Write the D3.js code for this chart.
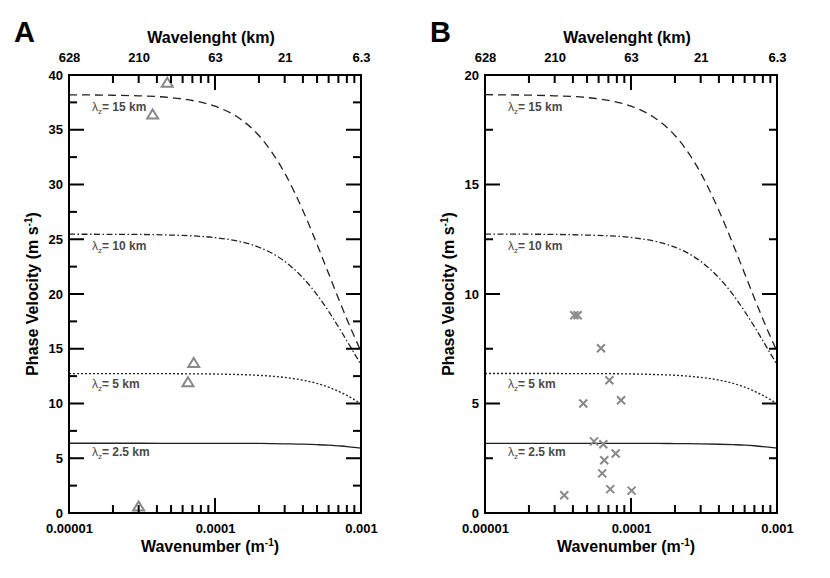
<!DOCTYPE html>
<html>
<head>
<meta charset="utf-8">
<script src="https://cdn.jsdelivr.net/npm/d3@7/dist/d3.min.js"></script>
<style>
body { margin: 0; background: #fff; }
svg text { font-family: "Liberation Sans", Arial, sans-serif; font-weight: bold; fill: #000; }
.tick text { font-size: 13px; }
.curve-label { font-size: 12px; fill: #4a4a4a; }
</style>
</head>
<body>
<svg id="chart" width="830" height="578"></svg>
<script>
var wavenumbers = [1e-5, 2e-5, 3e-5, 5e-5, 7e-5, 1e-4, 1.5e-4, 2e-4, 3e-4, 4e-4, 5e-4, 6e-4, 7e-4, 8e-4, 9e-4, 1e-3];
var curveNames = ["15", "10", "5", "2.5"];
var curveDashes = ["8,5", "6,2.5,1.5,2.5", "2,2", null];
var labelOffsets = [16, 16, 14.5, 12.5];

// panel A phase velocities (m/s)
var velocityA15 = [38.19, 38.15, 38.10, 37.93, 37.67, 37.15, 35.96, 34.47, 31.05, 27.62, 24.53, 21.87, 19.61, 17.72, 16.12, 14.76];
var velocityA10 = [25.46, 25.45, 25.44, 25.38, 25.31, 25.15, 24.77, 24.27, 22.98, 21.48, 19.93, 18.42, 17.01, 15.73, 14.58, 13.55];
var velocityA5 = [12.73, 12.73, 12.73, 12.72, 12.71, 12.69, 12.64, 12.57, 12.38, 12.13, 11.83, 11.49, 11.12, 10.74, 10.35, 9.96];
var velocityA25 = [6.37, 6.37, 6.37, 6.36, 6.36, 6.36, 6.36, 6.35, 6.32, 6.29, 6.24, 6.19, 6.13, 6.07, 5.99, 5.92];

// panel B phase velocities (m/s)
var velocityB15 = [19.10, 19.08, 19.05, 18.97, 18.84, 18.58, 17.98, 17.24, 15.53, 13.81, 12.27, 10.94, 9.81, 8.86, 8.06, 7.38];
var velocityB10 = [12.73, 12.73, 12.72, 12.69, 12.66, 12.58, 12.39, 12.14, 11.49, 10.74, 9.97, 9.21, 8.51, 7.87, 7.29, 6.78];
var velocityB5 = [6.37, 6.37, 6.37, 6.36, 6.36, 6.35, 6.32, 6.29, 6.19, 6.07, 5.92, 5.75, 5.56, 5.37, 5.18, 4.98];
var velocityB25 = [3.18, 3.18, 3.18, 3.18, 3.18, 3.18, 3.18, 3.17, 3.16, 3.14, 3.12, 3.10, 3.07, 3.03, 3.00, 2.96];

// observations
var triangleK = [4.71e-5, 3.74e-5, 7.15e-5, 6.53e-5, 3.0e-5];
var triangleV = [39.3, 36.4, 13.7, 11.95, 0.6];
var crossK = [4.09e-5, 4.31e-5, 6.23e-5, 7.11e-5, 4.71e-5, 8.55e-5, 5.58e-5, 6.46e-5, 7.85e-5, 6.56e-5, 6.35e-5, 7.21e-5, 1.01e-4, 3.49e-5];
var crossV = [9.03, 9.03, 7.52, 6.06, 5.0, 5.15, 3.27, 3.14, 2.72, 2.41, 1.81, 1.09, 1.02, 0.81];

// axes
var bottomTicks = [1e-5, 1e-4, 1e-3];
var bottomLabels = ["0.00001", "0.0001", "0.001"];
var topTicks = [1e-5, 3e-5, 1e-4, 3e-4, 1e-3];
var topLabels = ["628", "210", "63", "21", "6.3"];
var majorK = [1e-4];
var minorK = [2e-5, 3e-5, 4e-5, 5e-5, 6e-5, 7e-5, 8e-5, 9e-5, 2e-4, 3e-4, 4e-4, 5e-4, 6e-4, 7e-4, 8e-4, 9e-4];
var yMaxA = 40, yMaxB = 20;

function PhaseVelocityPanel(svg, left, letter, yMax, curves, points, marker) {
	var self = this;
	self.svg = svg;
	self.left = left;
	self.top = 75;
	self.g = svg.append("g").attr("transform", "translate(" + left + ",75)");
	self.letter = letter;
	self.width = 292;
	self.height = 438;
	self.yMax = yMax;
	self.curves = curves;
	self.points = points;
	self.marker = marker;
	self.x = d3.scaleLog().domain([1e-5, 1e-3]).range([0, self.width]);
	self.y = d3.scaleLinear().domain([0, yMax]).range([self.height, 0]);
}

PhaseVelocityPanel.prototype.draw = function() {
	var self = this;
	self.drawCurves();
	self.drawPoints();
	self.drawAxes();
	self.drawTitles();
};

PhaseVelocityPanel.prototype.addLabels = function(axis, dx, dy) {
	var self = this;
	var a = self.g.append("g")
			.attr("transform", "translate(" + dx + "," + dy + ")")
			.call(axis.tickSize(0));
	a.select(".domain").remove();
	a.selectAll(".tick line").remove();
};

// inward tick marks as small filled bars; side is left, right, top or bottom
PhaseVelocityPanel.prototype.addTicks = function(values, side, len) {
	var self = this;
	var w = self.width, h = self.height;
	var vertical = side === "left" || side === "right";
	var scale = vertical ? self.y : self.x;
	self.svg.append("g")
			.attr("transform", "translate(" + self.left + "," + self.top + ")")
			.selectAll("rect")
			.data(values)
			.enter().append("rect")
			.attr("x", function(d) {
				if (side === "left") return 0;
				if (side === "right") return w - len;
				return scale(d) - 1;
			})
			.attr("y", function(d) {
				if (side === "top") return 0;
				if (side === "bottom") return h - len;
				return scale(d) - 1;
			})
			.attr("width", vertical ? len : 2)
			.attr("height", vertical ? 2 : len)
			.attr("fill", "#000");
};

PhaseVelocityPanel.prototype.drawAxes = function() {
	var self = this;
	var w = self.width, h = self.height;
	var majorY = d3.range(0, self.yMax + 0.1, 5);
	var minorY = d3.range(2.5, self.yMax, 5);

	self.g.append("rect")
			.attr("width", w)
			.attr("height", h)
			.attr("fill", "none")
			.attr("stroke", "#000")
			.attr("stroke-width", 2);

	self.addLabels(d3.axisLeft(self.y).tickValues(majorY).tickPadding(6).tickFormat(d3.format("d")), 0, 0);
	self.addLabels(d3.axisBottom(self.x).tickValues(bottomTicks).tickPadding(11)
			.tickFormat(function(d, i) { return bottomLabels[i]; }), 0, h);
	self.addLabels(d3.axisTop(self.x).tickValues(topTicks).tickPadding(13)
			.tickFormat(function(d, i) { return topLabels[i]; }), 0, 0);

	self.addTicks(majorY.slice(1, -1), "left", 15);
	self.addTicks(minorY, "left", 8);
	self.addTicks(majorY.slice(1, -1), "right", 15);
	self.addTicks(minorY, "right", 8);
	self.addTicks(majorK, "bottom", 15);
	self.addTicks(minorK, "bottom", 8);
	self.addTicks(majorK, "top", 15);
	self.addTicks(minorK, "top", 8);
};

PhaseVelocityPanel.prototype.drawCurves = function() {
	var self = this;
	var line = d3.line()
			.x(function(d) { return self.x(d[0]); })
			.y(function(d) { return self.y(d[1]); })
			.curve(d3.curveMonotoneX);
	self.curves.forEach(function(values, i) {
		var data = wavenumbers.map(function(k, j) { return [k, values[j]]; });
		self.g.append("path")
				.attr("fill", "none")
				.attr("stroke", "#222")
				.attr("stroke-width", 1.3)
				.attr("stroke-dasharray", curveDashes[i])
				.attr("d", line(data));
		var label = self.g.append("text")
				.attr("class", "curve-label")
				.attr("x", 23)
				.attr("y", self.y(values[0]) + labelOffsets[i]);
		label.append("tspan").style("font-weight", "normal").text("λ");
		label.append("tspan").attr("dy", 3).style("font-size", "8px").style("font-weight", "normal").text("z");
		label.append("tspan").attr("dy", -3).text("= " + curveNames[i] + " km");
	});
};

PhaseVelocityPanel.prototype.drawPoints = function() {
	var self = this;
	var data = self.points[0].map(function(k, i) { return [k, self.points[1][i]]; });
	var marks = self.g.append("g").selectAll("path")
			.data(data)
			.enter().append("path")
			.attr("fill", "none")
			.attr("stroke", "#888")
			.attr("stroke-width", 2)
			.attr("transform", function(d) { return "translate(" + self.x(d[0]) + "," + self.y(d[1]) + ")"; });
	if (self.marker === "triangle") {
		marks.attr("d", "M0,-5L5.5,4L-5.5,4Z");
	} else {
		marks.attr("d", "M-4,-4L4,4M-4,4L4,-4");
	}
};

PhaseVelocityPanel.prototype.drawTitles = function() {
	var self = this;
	var g = self.g;
	g.append("text")
			.attr("x", -55)
			.attr("y", -33)
			.style("font-size", "29px")
			.text(self.letter);
	g.append("text")
			.attr("x", self.width / 2 - 4)
			.attr("y", -32)
			.attr("text-anchor", "middle")
			.style("font-size", "16px")
			.text("Wavelenght (km)");
	var xt = g.append("text")
			.attr("x", self.width / 2 - 5)
			.attr("y", self.height + 39)
			.attr("text-anchor", "middle")
			.style("font-size", "16px");
	xt.append("tspan").text("Wavenumber (m");
	xt.append("tspan").attr("dy", -6).style("font-size", "10px").text("-1");
	xt.append("tspan").attr("dy", 6).text(")");
	var yt = g.append("text")
			.attr("transform", "translate(-31," + (self.height / 2) + ") rotate(-90)")
			.attr("text-anchor", "middle")
			.style("font-size", "16px");
	yt.append("tspan").text("Phase Velocity (m s");
	yt.append("tspan").attr("dy", -6).style("font-size", "10px").text("-1");
	yt.append("tspan").attr("dy", 6).text(")");
};

var svg = d3.select("#chart");
new PhaseVelocityPanel(svg, 69, "A", yMaxA,
		[velocityA15, velocityA10, velocityA5, velocityA25], [triangleK, triangleV], "triangle").draw();
new PhaseVelocityPanel(svg, 485, "B", yMaxB,
		[velocityB15, velocityB10, velocityB5, velocityB25], [crossK, crossV], "cross").draw();
</script>
</body>
</html>
